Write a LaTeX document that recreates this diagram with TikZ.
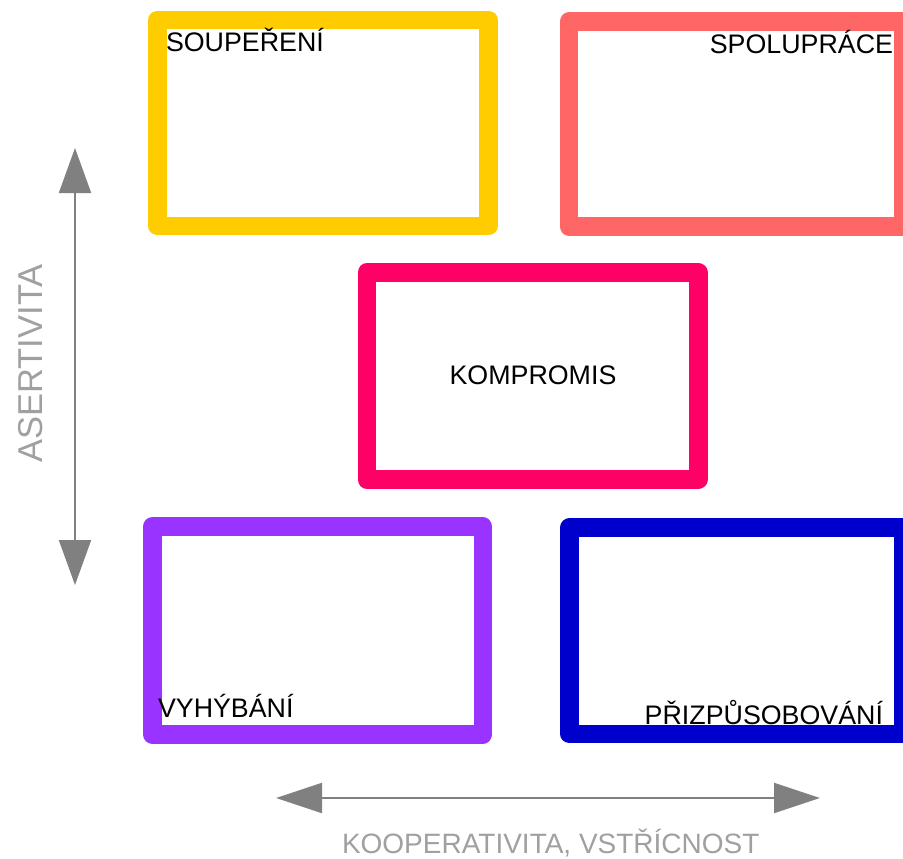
\documentclass[tikz,border=0pt]{standalone}
\usepackage{fontspec}
\setmainfont{Liberation Sans}
\usetikzlibrary{arrows.meta}
\definecolor{cyellow}{HTML}{FFCC00}
\definecolor{csalmon}{HTML}{FF6666}
\definecolor{cpink}{HTML}{FF0066}
\definecolor{cpurple}{HTML}{9933FF}
\definecolor{cblue}{HTML}{0000CC}
\definecolor{axgray}{HTML}{808080}
\definecolor{lblgray}{HTML}{A0A0A0}
\begin{document}
\begin{tikzpicture}[x=1pt,y=-1pt,
  frame/.style={draw, line width=18.5pt, line join=round, inner sep=0pt, outer sep=0pt, fill=none},
  lbl/.style={inner sep=0pt, outer sep=0pt, font=\fontsize{26.8}{30}\selectfont, text=black},
  axis/.style={draw=axgray, line width=2pt, {Triangle[length=45pt,width=32pt,fill=axgray]}-{Triangle[length=45pt,width=32pt,fill=axgray]}},
  axlbl/.style={inner sep=0pt, outer sep=0pt, text=lblgray}]
\useasboundingbox (0,0) rectangle (903,859);
% boxes
\node[frame, draw=cyellow, minimum width=331pt, minimum height=206pt] (soup) at (323,123) {};
\node[frame, draw=csalmon, minimum width=334pt, minimum height=205pt] (spol) at (736,124) {};
\node[frame, draw=cpink, minimum width=331.5pt, minimum height=207pt] (komp) at (532.5,376) {};
\node[frame, draw=cpurple, minimum width=330.5pt, minimum height=208pt] (vyhy) at (317.5,630.5) {};
\node[frame, draw=cblue, minimum width=334pt, minimum height=206.5pt] (priz) at (736.5,630.75) {};
% labels
\node[lbl, anchor=base west] (tsoup) at (166,52) {SOUPEŘENÍ};
\node[lbl, anchor=base east] (tspol) at (893,54) {SPOLUPRÁCE};
\node[lbl, anchor=base] (tkomp) at (533,384) {KOMPROMIS};
\node[lbl, anchor=base west] (tvyhy) at (158,717) {VYHÝBÁNÍ};
\node[lbl, anchor=base east] (tpriz) at (883,724) {PŘIZPŮSOBOVÁNÍ};
% axes
\coordinate (vtop) at (75,148);
\coordinate (vbot) at (75,585);
\draw[axis] (vtop) -- (vbot);
\coordinate (hleft) at (276,798);
\coordinate (hright) at (820,798);
\draw[axis, {Triangle[length=46pt,width=30pt,fill=axgray]}-{Triangle[length=46pt,width=30pt,fill=axgray]}] (hleft) -- (hright);
\node[axlbl, rotate=90, anchor=base, font=\fontsize{34.5}{40}\selectfont] (tasert) at (42,363.5) {ASERTIVITA};
\node[axlbl, anchor=base west, font=\fontsize{28}{32}\selectfont] (tkoop) at (342,853) {KOOPERATIVITA, VSTŘÍCNOST};
\end{tikzpicture}
\end{document}
